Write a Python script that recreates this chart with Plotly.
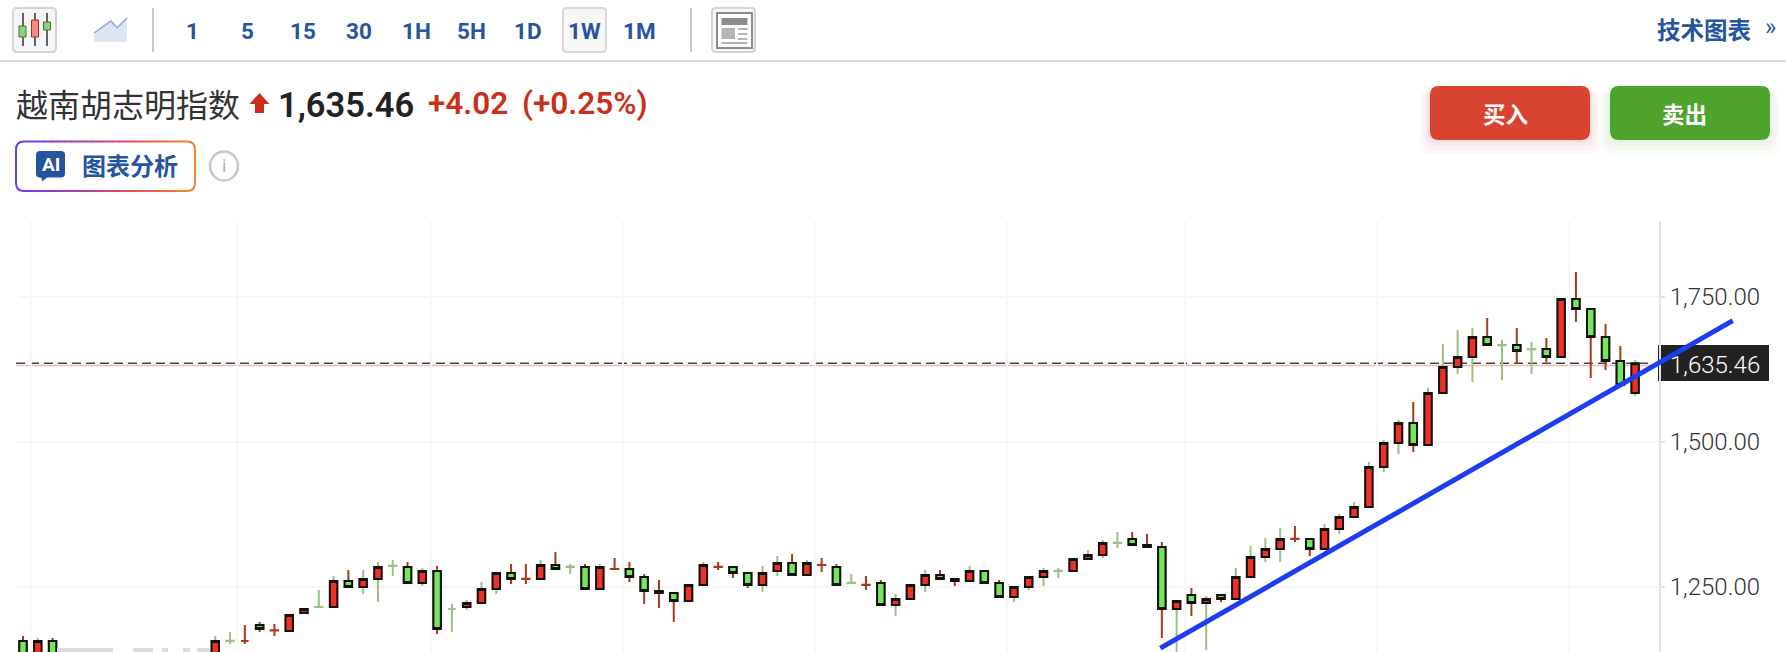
import plotly.graph_objects as go

W, H = 1786, 652

# Weekly candles. Weeks 3-12 lie below the visible part of the reference, so they stay empty.
weeks = list(range(110))
opens = [1156.4,1130,1156.4]+[None]*10+[1130,1156.2,1156.4,1184,1175.0,1173.6,1204.7,1214.8,1215,1259.8,1249.5,1263.3,1285.5,1284,1256.4,1277.1,1211.6,1215,1221.9,1246,1273.6,1263.5,1263.3,1287.4,1283.8,1284,1246,1280.7,1280.5,1266.7,1242.6,1239.2,1225.4,1253,1284.2,1284,1273.6,1253,1277.1,1290.9,1270.2,1287.6,1284,1256.2,1253.2,1256.4,1218.5,1228.8,1253,1270.2,1263.3,1259.8,1277.1,1256.4,1232.3,1249.5,1266.7,1276.9,1277.1,1297.8,1304.7,1325.2,1332.3,1321.9,1318.5,1211.6,1235.7,1221.9,1235.7,1228.8,1266.7,1301.2,1315,1332.5,1332.3,1315,1349.5,1370.2,1387.4,1456.4,1497.8,1532.3,1494.3,1584,1628.8,1646,1680.5,1666.5,1666.7,1659.6,1659.8,1646,1746,1728.8,1680.5,1639.1,1584]
highs = [1165,1161.6,1161.6]+[None]*10+[1165,1172,1184,1189.2,1185.7,1201.2,1211.6,1244.3,1268.5,1278.8,1278.8,1292.6,1296,1292.6,1282.3,1285.7,1220.2,1227.1,1258.1,1273.6,1289.2,1289.2,1296,1309.8,1289.2,1289.2,1289.2,1299.5,1292.6,1271.9,1261.6,1239.2,1253,1292.6,1292.6,1284,1273.6,1285.7,1303,1306.4,1296,1299.5,1289.2,1271.9,1268.5,1261.6,1237.4,1253,1278.8,1278.8,1263.3,1285.7,1277.1,1261.6,1249.5,1266.7,1282.3,1282.3,1297.8,1313.3,1330.5,1344.3,1344.3,1340.9,1327,1225.4,1247.8,1234,1235.7,1282.3,1320.2,1334,1351.2,1354.7,1332.3,1358.1,1375.4,1396,1465,1503,1537.4,1568.5,1592.6,1668.4,1692.6,1696,1713.3,1675.3,1696,1671.9,1678.8,1746,1792.6,1728.8,1702.9,1665,1640.9]
lows = [1125,1125,1125]+[None]*10+[1125,1151.2,1151.2,1172,1165,1173.6,1204.7,1214.8,1215,1249.5,1237.4,1223.6,1268.5,1256.4,1251.2,1168.5,1172,1209.9,1221.9,1237.4,1254.7,1254.7,1263.3,1280.5,1271.9,1246,1246,1280.5,1258.1,1220.2,1213.3,1189.2,1225.4,1253,1278.8,1265,1247.8,1240.9,1268.5,1270.2,1270.2,1275.4,1253,1256.4,1244.3,1218.5,1199.5,1228.8,1240.9,1263.3,1251.2,1259.8,1256.4,1232.3,1223.6,1244.3,1251.2,1265,1277.1,1297.8,1299.5,1316.7,1321.9,1318.5,1161.6,1123.6,1199.5,1140.9,1223.6,1228.8,1266.7,1292.6,1292.6,1327.1,1303,1315,1340.9,1370.2,1387.4,1447.8,1478.8,1482.3,1494.3,1584,1616.7,1602.9,1666.7,1606.4,1634,1616.7,1637.4,1646,1706.4,1609.8,1623.6,1597.8,1578.8]
closes = [1130,1156.4,1130]+[None]*10+[1156.4,1156.6,1156.4,1177.1,1174.6,1201.2,1211.6,1215.2,1259.8,1249.5,1263.3,1284,1285.9,1256.4,1277.1,1177.1,1211.6,1221.9,1246,1273.6,1263.3,1263.1,1287.4,1280.5,1284.2,1246,1284,1280.3,1266.7,1242.6,1239.2,1225.4,1253,1287.4,1283.8,1273.6,1253,1273.6,1290.9,1270.2,1290.9,1287.2,1253,1256.6,1252.8,1218.5,1228.8,1253,1270.2,1263.3,1259.8,1277.1,1256.4,1232.3,1249.5,1266.7,1277.1,1277.3,1297.8,1304.7,1325.4,1325.6,1321.9,1318.5,1211.6,1225.4,1221.9,1228.8,1228.8,1266.7,1301.2,1315,1332.3,1332.1,1315,1349.5,1370.2,1387.4,1456.4,1497.8,1532.3,1494.3,1584,1628.8,1646,1680.5,1666.7,1666.9,1656.4,1660,1646,1746,1728.8,1680.5,1639.1,1597.8,1635.46]

price_ticks = [1250, 1500, 1750]
time_grid = [0.55, 14.45, 27.6, 40.55, 53.55, 66.5, 78.55, 91.55, 104.55]
last_price = 1635.46
prev_close = 1631.44
trend_x = [76.9, 115.6]
trend_y = [1144, 1708.7]
intervals = ["1", "5", "15", "30", "1H", "5H", "1D", "1W", "1M"]

BLUE = "#26559f"
LAT = "Roboto, Noto Sans CJK SC, sans-serif"
CJK = "Noto Sans CJK SC, sans-serif"

def X(x): return x / W
def Y(y): return 1 - y / H

shapes, notes = [], []

def rect_path(x0, y0, x1, y1, r):
    return (f"M{X(x0+r)},{Y(y0)} L{X(x1-r)},{Y(y0)} Q{X(x1)},{Y(y0)} {X(x1)},{Y(y0+r)} "
            f"L{X(x1)},{Y(y1-r)} Q{X(x1)},{Y(y1)} {X(x1-r)},{Y(y1)} L{X(x0+r)},{Y(y1)} "
            f"Q{X(x0)},{Y(y1)} {X(x0)},{Y(y1-r)} L{X(x0)},{Y(y0+r)} Q{X(x0)},{Y(y0)} {X(x0+r)},{Y(y0)} Z")

def rrect(x0, y0, x1, y1, r, fill, line=None, lw=0, opacity=1, layer="above"):
    shapes.append(dict(type="path", path=rect_path(x0, y0, x1, y1, r), xref="paper", yref="paper",
                       fillcolor=fill, opacity=opacity, layer=layer,
                       line=dict(color=line or "rgba(0,0,0,0)", width=lw)))

def box(x0, y0, x1, y1, fill, line=None, lw=0):
    shapes.append(dict(type="rect", xref="paper", yref="paper", x0=X(x0), x1=X(x1), y0=Y(y0), y1=Y(y1),
                       fillcolor=fill, line=dict(color=line or "rgba(0,0,0,0)", width=lw)))

def seg(x0, y0, x1, y1, color, lw=2):
    shapes.append(dict(type="line", xref="paper", yref="paper", x0=X(x0), x1=X(x1), y0=Y(y0), y1=Y(y1),
                       line=dict(color=color, width=lw)))

def poly(pts, fill, line=None, lw=0):
    d = "M" + " L".join(f"{X(a)},{Y(b)}" for a, b in pts) + " Z"
    shapes.append(dict(type="path", path=d, xref="paper", yref="paper", fillcolor=fill,
                       line=dict(color=line or "rgba(0,0,0,0)", width=lw)))

def text(x, y, s, size, color, anchor="center", font=LAT, weight=400):
    notes.append(dict(x=X(x), y=Y(y), xref="paper", yref="paper", text=s, showarrow=False,
                      xanchor=anchor, yanchor="middle", align=anchor, borderpad=0, borderwidth=0,
                      font=dict(family=font, size=size, color=color, weight=weight)))

# toolbar
seg(0, 61, W, 61, "#d9d9d9", 2)
rrect(13, 8, 56, 52, 4, "#f6f6f6", "#d4d4d4", 2)
for wx in (23, 35, 47):
    seg(wx, 13, wx, 46, "#333333", 1.5)
box(19, 26, 26, 37, "#8fd07a", "#3c7a2a", 1)
box(31.5, 20, 38.5, 37, "#f28b82", "#b02a1c", 1)
box(43.5, 22, 50.5, 30, "#8fd07a", "#3c7a2a", 1)
poly([(94, 33), (111, 21), (117, 28), (127, 18), (127, 42), (94, 42)], "#dde5f2")
shapes.append(dict(type="path", path=f"M{X(94)},{Y(33)} L{X(111)},{Y(21)} L{X(117)},{Y(28)} L{X(127)},{Y(18)}",
                   xref="paper", yref="paper", line=dict(color="#8aa5cf", width=1.5)))
seg(153, 8, 153, 52, "#c8c8c8", 2)
seg(691, 8, 691, 52, "#c8c8c8", 2)
rrect(563, 8, 606, 52, 4, "#f6f6f6", "#d8d8d8", 2)
rrect(712, 8, 755, 52, 4, "#f6f6f6", "#d4d4d4", 2)
box(717, 13, 752, 48, "#ffffff", "#8c8c8c", 2)
box(721.5, 18, 747.5, 25, "#8c8c8c")
box(721.5, 28, 735, 39, "#b5b5b5")
for ly in (29, 34, 39):
    seg(738, ly, 747.5, ly, "#9a9a9a", 1.5)
seg(721.5, 43, 747.5, 43, "#9a9a9a", 1.5)
for cx, s in zip((192, 247, 303, 359, 416, 472, 528, 584, 639), intervals):
    text(cx, 31, s, 22.5, BLUE, font=LAT, weight=700)
text(1704, 28.5, "技术图表", 23.5, BLUE, font=CJK, weight=700)
text(1770, 26.5, "»", 24, BLUE, font=LAT)

# heading
text(16, 103, "越南胡志明指数", 32, "#333333", "left", CJK)
poly([(259.5, 93), (269.5, 104), (264, 104), (264, 113), (255, 113), (255, 104), (249.5, 104)], "#cc2f17")
text(278, 104.5, "1,635.46", 34.5, "#222222", "left", LAT, 600)
text(428, 104, "+4.02", 31.5, "#c8301c", "left", LAT, 600)
text(522, 104, "(+0.25%)", 31.5, "#c8301c", "left", LAT, 600)

# outlined analysis button
stops = [(108, 64, 240), (176, 60, 170), (232, 80, 90), (245, 130, 45)]
def grad(t):
    p = t * (len(stops) - 1)
    i = min(int(p), len(stops) - 2)
    f = p - i
    return "rgb(%d,%d,%d)" % tuple(stops[i][k] + (stops[i + 1][k] - stops[i][k]) * f for k in range(3))
n = 24
for i in range(n):
    a, b = 24 + i * (163 / n), 24 + (i + 1) * (163 / n)
    seg(a - 0.3, 141.5, b + 0.3, 141.5, grad((i + .5) / n))
    seg(a - 0.3, 191, b + 0.3, 191, grad((i + .5) / n))
for p, col in (((24, 141.5, 16, 141.5, 16, 149.5, 16, 183, 16, 191, 24, 191), grad(0)),
               ((187, 141.5, 195, 141.5, 195, 149.5, 195, 183, 195, 191, 187, 191), grad(1))):
    d = (f"M{X(p[0])},{Y(p[1])} Q{X(p[2])},{Y(p[3])} {X(p[4])},{Y(p[5])} L{X(p[6])},{Y(p[7])} "
         f"Q{X(p[8])},{Y(p[9])} {X(p[10])},{Y(p[11])}")
    shapes.append(dict(type="path", path=d, xref="paper", yref="paper", line=dict(color=col, width=2)))
rrect(36, 151, 65, 177.5, 4, BLUE)
poly([(41, 175), (50, 175), (42, 181.5)], BLUE)
text(50.5, 164, "AI", 19, "#ffffff", font=LAT, weight=700)
text(130, 164.5, "图表分析", 24, BLUE, font=CJK, weight=700)
shapes.append(dict(type="circle", xref="paper", yref="paper", x0=X(210), x1=X(238), y0=Y(180.5), y1=Y(151.5),
                   fillcolor="#ffffff", line=dict(color="#c8c8c8", width=2.5)))
text(224, 166, "i", 18, "#b5b5b5", font=LAT)

# order buttons
for x0, x1, col, shade, lab in ((1430, 1590, "#d94432", "#d94432", "买入"), (1610, 1770, "#4ea32d", "#4ea32d", "卖出")):
    for grow in (14, 10, 6, 3):
        rrect(x0 - grow * .7, 90, x1 + grow * .7, 140 + grow, 10, shade, opacity=0.035)
    rrect(x0, 86, x1, 140, 9, col)
    text((x0 + x1) / 2 + (-5 if lab == "买入" else -6), 113.5, lab, 22.5, "#ffffff", font=CJK, weight=700)

# faint remains of the cut-off caption along the bottom edge
for a, b in ((57, 113), (133, 153), (162, 168), (183, 190), (197, 210)):
    box(a, 648, b, 654, "#dcdcdc")

# current price label and price reference lines
shapes.append(dict(type="rect", layer="below", xref="paper", yref="paper", x0=X(1658), x1=X(1769), y0=Y(381), y1=Y(345),
                   fillcolor="#222222", line=dict(width=0)))
shapes.append(dict(type="line", layer="below", xref="paper", yref="y", x0=X(16), x1=X(1659), y0=prev_close, y1=prev_close,
                   line=dict(color="#f5b8b2", width=1.5)))
shapes.append(dict(type="line", layer="below", xref="paper", yref="y", x0=X(16), x1=X(1648), y0=last_price, y1=last_price,
                   line=dict(color="#444444", width=1.5, dash="9px,5px")))
text(1670, 364.5, f"{last_price:,.2f}", 24, "#ffffff", "left", LAT, 300)

# wick layer uses the full range; body layer keeps only real bodies and draws them outlined in black
solid = [o is not None and abs(o - c) >= 1 for o, c in zip(opens, closes)]
fig = go.Figure()
fig.add_trace(go.Candlestick(
    x=weeks, open=opens, high=highs, low=lows, close=closes, whiskerwidth=0,
    increasing=dict(line=dict(color="#9bbf85", width=2), fillcolor="#9bbf85"),
    decreasing=dict(line=dict(color="#a8391f", width=2), fillcolor="#a8391f"),
    showlegend=False, hoverinfo="skip"))
fig.add_trace(go.Candlestick(
    x=weeks,
    open=[o if s else None for o, s in zip(opens, solid)],
    high=[max(o, c) if s else None for o, c, s in zip(opens, closes, solid)],
    low=[min(o, c) if s else None for o, c, s in zip(opens, closes, solid)],
    close=[c if s else None for c, s in zip(closes, solid)],
    whiskerwidth=0,
    increasing=dict(line=dict(color="#111111", width=2), fillcolor="#ee3124"),
    decreasing=dict(line=dict(color="#111111", width=2), fillcolor="#73e858"),
    showlegend=False, hoverinfo="skip"))
# The trend line runs past the price axis, so it sits on a wider invisible pair of axes with the same scale.
fig.add_trace(go.Scatter(x=trend_x, y=trend_y, mode="lines", xaxis="x2", yaxis="y2",
                         line=dict(color="#1e3cf0", width=5), showlegend=False, hoverinfo="skip"))

fig.update_layout(
    width=W, height=H, margin=dict(l=0, r=0, t=0, b=0), paper_bgcolor="#ffffff", plot_bgcolor="rgba(0,0,0,0)",
    boxgap=0.28, shapes=shapes, annotations=notes, showlegend=False,
    xaxis=dict(domain=[18 / W, 1659 / W], range=[-0.338, 110.615], tickmode="array", tickvals=time_grid,
               showticklabels=False, ticks="", showgrid=True, gridcolor="#f6f6f6", gridwidth=2, zeroline=False,
               rangeslider=dict(visible=False), showline=False),
    yaxis=dict(domain=[0, 1 - 222 / H], range=[1137.4, 1878.8], side="right", tickmode="array",
               tickvals=price_ticks, tickformat=",.2f", ticks="outside", ticklen=4, tickwidth=1.5,
               tickcolor="#dde3ea", showgrid=True, gridcolor="#f6f6f6", gridwidth=2, zeroline=False,
               showline=True, linecolor="#dde3ea", linewidth=2,
               tickfont=dict(family=LAT, size=24, color="#333333", weight=300)),
    xaxis2=dict(domain=[18 / W, 1], range=[-0.338, 119.2], visible=False, anchor="y2"),
    yaxis2=dict(domain=[0, 1 - 222 / H], range=[1137.4, 1878.8], visible=False, anchor="x2"),
)
fig.write_html("out.html", config=dict(displayModeBar=False),
               post_script="document.body.style.margin='0';document.body.style.overflow='hidden';")
